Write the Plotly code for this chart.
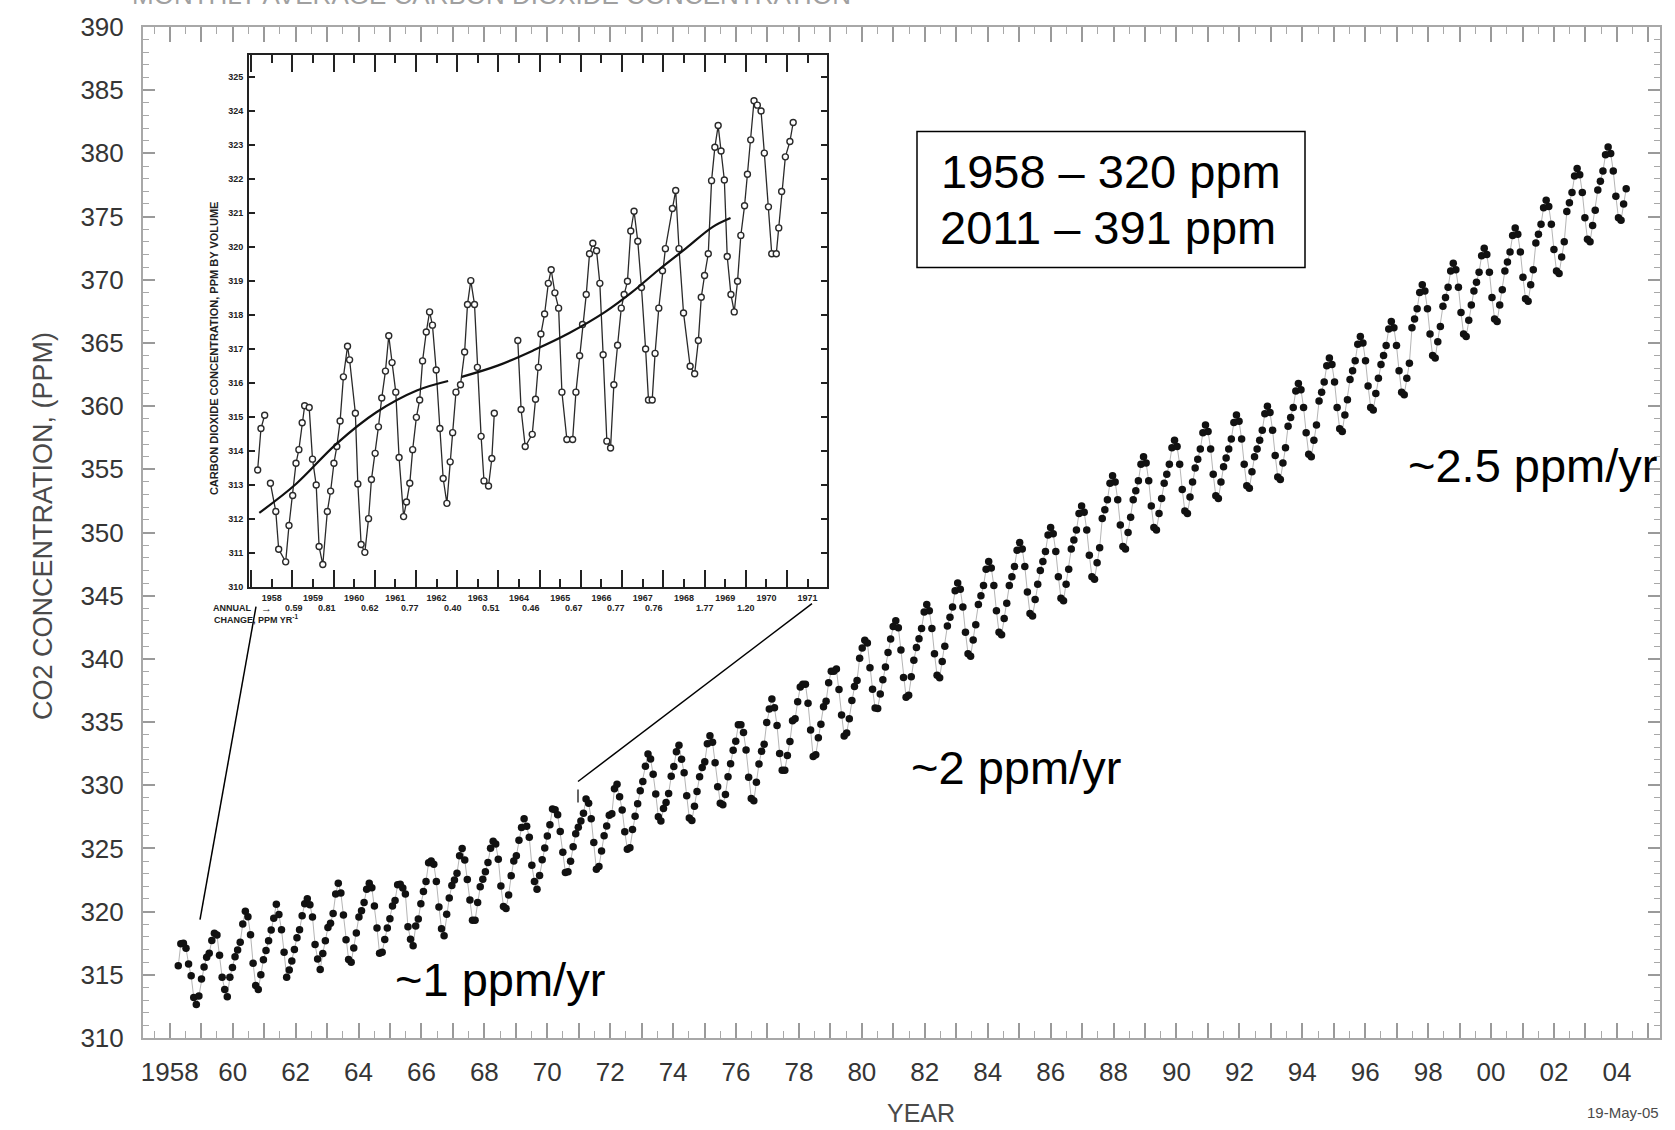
import plotly.graph_objects as go

# ---------------- main record: monthly mean CO2 (ppm), Mar 1958 - Dec 2004 ----------------
start_year = 1958
start_month = 3
co2_ppm = [
    315.71, 317.45, 317.50, 317.10, 315.86, 314.93, 313.20, 312.66, 313.33, 314.67,
    315.62, 316.38, 316.71, 317.72, 318.29, 318.15, 316.54, 314.80, 313.84, 313.26, 314.80, 315.58,
    316.43, 316.97, 317.58, 319.02, 320.03, 319.59, 318.18, 315.91, 314.16, 313.83, 315.00, 316.19,
    316.93, 317.70, 318.54, 319.48, 320.58, 319.77, 318.57, 316.79, 314.80, 315.38, 316.10, 317.01,
    317.94, 318.56, 319.68, 320.63, 321.01, 320.55, 319.58, 317.40, 316.26, 315.42, 316.69, 317.69,
    318.74, 319.08, 319.86, 321.39, 322.25, 321.47, 319.74, 317.77, 316.21, 315.99, 317.12, 318.31,
    319.57, 320.07, 320.73, 321.77, 322.25, 321.89, 320.44, 318.70, 316.70, 316.79, 317.79, 318.71,
    319.44, 320.44, 320.89, 322.13, 322.16, 321.87, 321.39, 318.81, 317.81, 317.30, 318.87, 319.42,
    320.62, 321.59, 322.39, 323.87, 324.01, 323.75, 322.39, 320.37, 318.64, 318.10, 319.79, 321.08,
    322.07, 322.50, 323.04, 324.42, 325.00, 324.09, 322.55, 320.92, 319.31, 319.31, 320.72, 321.96,
    322.57, 323.15, 323.89, 325.02, 325.57, 325.36, 324.14, 322.03, 320.41, 320.25, 321.31, 322.84,
    324.00, 324.42, 325.64, 326.66, 327.34, 326.76, 325.88, 323.67, 322.38, 321.78, 322.85, 324.11,
    325.03, 325.99, 326.87, 328.13, 328.07, 327.66, 326.35, 324.69, 323.10, 323.16, 323.98, 325.13,
    326.17, 326.68, 327.18, 327.78, 328.92, 328.57, 327.34, 325.46, 323.36, 323.57, 324.80, 326.01,
    326.77, 327.63, 327.75, 329.72, 330.07, 329.09, 328.05, 326.32, 324.93, 325.06, 326.50, 327.55,
    328.54, 329.56, 330.30, 331.50, 332.48, 332.07, 330.87, 329.31, 327.51, 327.18, 328.16, 328.64,
    329.35, 330.71, 331.48, 332.65, 333.16, 332.06, 330.99, 329.17, 327.41, 327.21, 328.33, 329.50,
    330.68, 331.41, 331.85, 333.29, 333.91, 333.40, 331.78, 329.88, 328.57, 328.46, 329.26, 330.67,
    331.71, 332.76, 333.48, 334.78, 334.78, 334.17, 332.78, 330.64, 328.95, 328.77, 330.23, 331.69,
    332.70, 333.24, 334.96, 336.04, 336.82, 336.13, 334.73, 332.52, 331.19, 331.19, 332.35, 333.47,
    335.11, 335.26, 336.60, 337.77, 338.00, 337.99, 336.48, 334.37, 332.27, 332.41, 333.76, 334.83,
    336.21, 336.64, 338.12, 339.02, 339.02, 339.20, 337.58, 335.55, 333.89, 334.14, 335.26, 336.71,
    337.81, 338.29, 340.04, 340.86, 341.47, 341.26, 339.29, 337.60, 336.12, 336.08, 337.22, 338.34,
    339.36, 340.51, 341.57, 342.56, 343.01, 342.47, 340.71, 338.52, 336.96, 337.13, 338.58, 339.89,
    340.9, 341.6, 342.4, 343.7, 344.3, 343.8, 342.4, 340.4, 338.7, 338.5, 339.8, 341.0,
    342.6, 343.3, 344.1, 345.4, 346.0, 345.5, 344.1, 342.1, 340.4, 340.2, 341.5, 342.7,
    344.3, 345.0, 345.8, 347.1, 347.7, 347.2, 345.8, 343.8, 342.1, 341.9, 343.2, 344.4,
    345.8, 346.5, 347.3, 348.6, 349.2, 348.7, 347.3, 345.3, 343.6, 343.4, 344.7, 345.9,
    347.0, 347.7, 348.5, 349.8, 350.4, 349.9, 348.5, 346.5, 344.8, 344.6, 345.9, 347.1,
    348.7, 349.4, 350.2, 351.5, 352.1, 351.6, 350.2, 348.2, 346.5, 346.3, 347.6, 348.8,
    351.1, 351.8, 352.6, 353.9, 354.5, 354.0, 352.6, 350.6, 348.9, 348.7, 350.0, 351.2,
    352.6, 353.3, 354.1, 355.4, 356.0, 355.5, 354.1, 352.1, 350.4, 350.2, 351.5, 352.7,
    353.9, 354.6, 355.4, 356.7, 357.3, 356.8, 355.4, 353.4, 351.7, 351.5, 352.8, 354.0,
    355.1, 355.8, 356.6, 357.9, 358.5, 358.0, 356.6, 354.6, 352.9, 352.7, 354.0, 355.2,
    355.9, 356.6, 357.4, 358.7, 359.3, 358.8, 357.4, 355.4, 353.7, 353.5, 354.8, 356.0,
    356.6, 357.3, 358.1, 359.4, 360.0, 359.5, 358.1, 356.1, 354.4, 354.2, 355.5, 356.7,
    358.4, 359.1, 359.9, 361.2, 361.8, 361.3, 359.9, 357.9, 356.2, 356.0, 357.3, 358.5,
    360.4, 361.1, 361.9, 363.2, 363.8, 363.3, 361.9, 359.9, 358.2, 358.0, 359.3, 360.5,
    362.1, 362.8, 363.6, 364.9, 365.5, 365.0, 363.6, 361.6, 359.9, 359.7, 361.0, 362.2,
    363.3, 364.0, 364.8, 366.1, 366.7, 366.2, 364.8, 362.8, 361.1, 360.9, 362.2, 363.4,
    366.2, 366.9, 367.7, 369.0, 369.6, 369.1, 367.7, 365.7, 364.0, 363.8, 365.1, 366.3,
    367.9, 368.6, 369.4, 370.7, 371.3, 370.8, 369.4, 367.4, 365.7, 365.5, 366.8, 368.0,
    369.1, 369.8, 370.6, 371.9, 372.5, 372.0, 370.6, 368.6, 366.9, 366.7, 368.0, 369.2,
    370.7, 371.4, 372.2, 373.5, 374.1, 373.6, 372.2, 370.2, 368.5, 368.3, 369.6, 370.8,
    372.9, 373.6, 374.4, 375.7, 376.3, 375.8, 374.4, 372.4, 370.7, 370.5, 371.8, 373.0,
    375.4, 376.1, 376.9, 378.2, 378.8, 378.3, 376.9, 374.9, 373.2, 373.0, 374.3, 375.5,
    377.1, 377.8, 378.6, 379.9, 380.5, 380.0, 378.6, 376.6, 374.9, 374.7, 376.0, 377.2,
]

x_tick_years = list(range(1958, 2006))
x_tick_text = ["1958" if y == 1958 else ("%02d" % (y % 100) if y % 2 == 0 and y <= 2004 else "")
               for y in x_tick_years]
y_tick_vals = list(range(310, 391, 5))

# ---------------- inset (Keeling, 1958-1971) ----------------
inset_years = [
    1958.16, 1958.24, 1958.33, None,
    1958.47, 1958.60, 1958.67, 1958.84, 1958.92, 1959.01, 1959.09, 1959.16, 1959.24, 1959.30,
    1959.41, 1959.49, 1959.58, 1959.65, 1959.74, 1959.85, 1959.93, 1960.01, 1960.08, 1960.16,
    1960.24, 1960.34, 1960.39, 1960.53, 1960.59, 1960.67, 1960.76, 1960.85, 1960.92, 1961.01,
    1961.09, 1961.17, 1961.26, 1961.34, 1961.42, 1961.51, 1961.59, 1961.70, 1961.77, 1961.85,
    1961.92, 1962.01, 1962.09, 1962.16, 1962.25, 1962.33, 1962.40, 1962.49, 1962.58, 1962.66,
    1962.75, 1962.83, 1962.89, 1962.97, 1963.08, 1963.18, 1963.25, 1963.33, 1963.42, 1963.49,
    1963.58, 1963.65, 1963.76, 1963.84, 1963.90, None,
    1964.47, 1964.55, 1964.65, 1964.82, 1964.90, 1964.97, 1965.03, 1965.12, 1965.21, 1965.28,
    1965.37, 1965.46, 1965.54, 1965.66, 1965.80, 1965.88, 1965.97, 1966.04, 1966.13, 1966.21,
    1966.29, 1966.38, 1966.46, 1966.54, 1966.63, 1966.72, 1966.80, 1966.89, 1966.98, 1967.05,
    1967.13, 1967.21, 1967.29, 1967.38, 1967.47, 1967.57, 1967.64, 1967.73, 1967.80, 1967.89,
    1967.98, 1968.05, 1968.22, 1968.30, 1968.38, 1968.49, 1968.65, 1968.76, 1968.85, 1968.92,
    1969.00, 1969.09, 1969.17, 1969.25, 1969.33, 1969.40, 1969.48, 1969.55, 1969.64, 1969.72,
    1969.80, 1969.88, 1969.97, 1970.04, 1970.12, 1970.20, 1970.28, 1970.37, 1970.45, 1970.55,
    1970.63, 1970.74, 1970.80, 1970.87, 1970.96, 1971.07, 1971.15,
]
inset_ppm = [
    313.43, 314.65, 315.04, None,
    313.04, 312.21, 311.10, 310.73, 311.80, 312.68, 313.63, 314.03, 314.82, 315.32,
    315.27, 313.75, 312.99, 311.18, 310.65, 312.21, 312.81, 313.63, 314.12, 314.87,
    316.17, 317.07, 316.67, 315.10, 313.02, 311.24, 311.01, 312.00, 313.15, 313.92,
    314.70, 315.55, 316.34, 317.38, 316.59, 315.72, 313.80, 312.06, 312.49, 313.04,
    314.03, 314.98, 315.49, 316.64, 317.49, 318.08, 317.69, 316.37, 314.65, 313.18,
    312.45, 313.67, 314.53, 315.72, 315.94, 316.90, 318.30, 319.00, 318.30, 316.45,
    314.42, 313.11, 312.96, 313.77, 315.10, None,
    317.24, 315.21, 314.12, 314.48, 315.51, 316.45, 317.43, 318.02, 318.92, 319.32,
    318.64, 318.19, 315.72, 314.33, 314.33, 315.72, 316.79, 317.71, 318.59, 319.79,
    320.10, 319.88, 318.92, 316.82, 314.28, 314.08, 315.94, 317.10, 318.19, 318.59,
    318.98, 320.46, 321.04, 320.16, 318.80, 316.99, 315.49, 315.49, 316.86, 318.19,
    319.29, 319.94, 321.12, 321.65, 319.94, 318.05, 316.48, 316.26, 317.24, 318.51,
    319.15, 319.79, 321.94, 322.92, 323.56, 322.81, 321.96, 319.71, 318.59, 318.08,
    318.98, 320.33, 321.20, 322.13, 323.14, 324.29, 324.16, 323.99, 322.75, 321.17,
    319.79, 319.79, 320.55, 321.62, 322.64, 323.09, 323.65,
]
trend_years = [1958.20, 1959.09, 1960.07, 1961.04, 1962.02, 1962.78, None,
               1963.11, 1963.98, 1964.85, 1965.72, 1966.59, 1967.24, 1967.89, 1968.54, 1969.20, 1969.63]
trend_ppm = [312.17, 313.02, 314.20, 315.13, 315.77, 316.05, None,
             316.17, 316.50, 316.95, 317.46, 318.08, 318.66, 319.32, 319.94, 320.58, 320.84]
inset_label_years = list(range(1958, 1972))
inset_y_ticks = list(range(310, 326))
annual_change = ["0.59", "0.81", "0.62", "0.77", "0.40", "0.51", "0.46", "0.67", "0.77", "0.76", "1.77", "1.20"]
annual_change_x = [1959.03, 1959.85, 1960.88, 1961.86, 1962.89, 1963.82, 1964.79, 1965.83, 1966.86, 1967.78, 1969.0, 1970.01]

# ---------------- geometry helpers (pixel -> paper) ----------------
L, R, T, B = 143, 1660, 21, 1038
W, H = R - L, B - T


def px(x):
    return (x - L) / W


def py(y):
    return (B - y) / H


main_x = []
for i in range(len(co2_ppm)):
    m = start_month - 1 + i
    main_x.append(start_year + m // 12 + ((m % 12) + 0.5) / 12.0)

fig = go.Figure()
# empty trace so that the labelled year axis is drawn
fig.add_trace(go.Scatter(x=[None], y=[None], xaxis="x", yaxis="y", mode="markers",
                         hoverinfo="skip", showlegend=False))
fig.add_trace(go.Scatter(
    x=main_x, y=co2_ppm, xaxis="x2", yaxis="y", mode="lines+markers",
    line=dict(color="#b5b5b5", width=1),
    marker=dict(color="#111111", size=7.5, line=dict(width=0)),
    hoverinfo="skip"))

fig.add_trace(go.Scatter(
    x=inset_years, y=inset_ppm, xaxis="x3", yaxis="y3", mode="lines+markers",
    line=dict(color="#2a2a2a", width=1.3),
    marker=dict(symbol="circle", size=6, color="white", line=dict(color="#2a2a2a", width=1.4)),
    connectgaps=False, hoverinfo="skip"))

fig.add_trace(go.Scatter(
    x=trend_years, y=trend_ppm, xaxis="x3", yaxis="y3", mode="lines",
    line=dict(color="#111111", width=2.2, shape="spline"),
    connectgaps=False, hoverinfo="skip"))

tick_font = dict(family="Liberation Sans, Arial, sans-serif", size=26, color="#353535")
inset_font = dict(family="Liberation Sans, Arial, sans-serif", size=9, color="#222222", weight="bold")

fig.update_layout(
    width=1675, height=1130,
    margin=dict(l=L, r=1675 - R, t=T, b=1130 - B),
    paper_bgcolor="white", plot_bgcolor="white", showlegend=False,
    xaxis=dict(
        domain=[0, 1], anchor="y", range=[1957.15, 2005.37],
        tickmode="array", tickvals=x_tick_years, ticktext=x_tick_text,
        ticks="inside", ticklen=15, tickwidth=1.5, tickcolor="#9a9a9a",
        minor=dict(ticks="inside", tickmode="linear", tick0=1957.5, dtick=1, ticklen=7,
                   tickwidth=1.3, tickcolor="#a8a8a8"),
        showline=True, linecolor="#a8a8a8", linewidth=2, mirror="ticks",
        showgrid=False, zeroline=False, tickfont=tick_font, ticklabelstandoff=10),
    xaxis2=dict(domain=[0, 1], anchor="y", overlaying="x", range=[1957.07, 2006.05], visible=False),
    yaxis=dict(
        domain=[0, 1], anchor="x", range=[310, 390],
        tickmode="array", tickvals=y_tick_vals,
        ticks="inside", ticklen=12, tickwidth=1.5, tickcolor="#9a9a9a",
        minor=dict(ticks="inside", tickmode="linear", tick0=310, dtick=1, ticklen=6,
                   tickwidth=1.3, tickcolor="#a8a8a8"),
        showline=True, linecolor="#a8a8a8", linewidth=2, mirror="ticks",
        showgrid=False, zeroline=False, tickfont=tick_font, ticklabelstandoff=12),
    xaxis3=dict(
        domain=[px(249), px(827)], anchor="y3", range=[1957.95, 1971.97],
        tickmode="array", tickvals=[y + 0.5 for y in inset_label_years],
        ticktext=[str(y) for y in inset_label_years],
        ticks="inside", ticklen=8, tickwidth=2, tickcolor="#222222",
        minor=dict(ticks="inside", tickmode="linear", tick0=1958, dtick=1, ticklen=17,
                   tickwidth=2, tickcolor="#222222"),
        showline=True, linecolor="#222222", linewidth=2, mirror="ticks",
        showgrid=False, zeroline=False, tickfont=inset_font, ticklabelstandoff=2),
    yaxis3=dict(
        domain=[py(584), py(49)], anchor="x3", range=[310, 325.64],
        tickmode="array", tickvals=inset_y_ticks,
        ticks="inside", ticklen=6, tickwidth=2, tickcolor="#222222",
        showline=True, linecolor="#222222", linewidth=2, mirror="ticks",
        showgrid=False, zeroline=False, tickfont=inset_font, ticklabelstandoff=2),
)

ann = []
big = dict(family="Liberation Sans, Arial, sans-serif", size=47, color="black")
ann.append(dict(text="1958 \u2013 320 ppm", x=px(1111), y=py(166), font=big))
ann.append(dict(text="2011 \u2013 391 ppm", x=px(1108), y=py(223), font=big))
ann.append(dict(text="~1 ppm/yr", x=px(500), y=py(979), font=big))
ann.append(dict(text="~2 ppm/yr", x=px(1016), y=py(766), font=big))
ann.append(dict(text="~2.5 ppm/yr", x=px(1532), y=py(462), font=big))

gray = dict(family="Liberation Sans, Arial, sans-serif", color="#4a4a4a")
ann.append(dict(text="YEAR", x=px(921), y=py(1113), font=dict(size=25, **gray)))
ann.append(dict(text="19-May-05", x=px(1661), y=py(1113), xanchor="right", font=dict(size=15, **gray)))
ann.append(dict(text="CO2 CONCENTRATION, (PPM)", x=px(43), y=py(523), textangle=-90,
                font=dict(size=27, **gray)))
ann.append(dict(text="MONTHLY AVERAGE CARBON DIOXIDE CONCENTRATION", x=px(491), y=py(-11),
                font=dict(size=26, family="Liberation Sans, Arial, sans-serif", color="#a0a0a0")))

small = dict(family="Liberation Sans, Arial, sans-serif", size=11, color="#222222", weight="bold")
ann.append(dict(text="CARBON DIOXIDE CONCENTRATION, PPM BY VOLUME", x=px(214), y=py(344),
                textangle=-90, font=small))
ann.append(dict(text="ANNUAL", x=px(211), y=py(605), xanchor="left", font=inset_font))
ann.append(dict(text="CHANGE, PPM YR<sup>-1</sup>", x=px(212), y=py(617), xanchor="left", font=inset_font))
ann.append(dict(text="\u2192", x=px(266), y=py(605), font=dict(inset_font, size=11)))
for v, xv in zip(annual_change, annual_change_x):
    ann.append(dict(text=v, x=xv, xref="x3", y=py(605), yref="paper", font=inset_font))

for a in ann:
    a.setdefault("xref", "paper")
    a.setdefault("yref", "paper")
    a.setdefault("showarrow", False)
    a.setdefault("xanchor", "center")
    a.setdefault("yanchor", "middle")
fig.update_layout(annotations=ann)

shapes = [
    dict(type="rect", x0=px(917), x1=px(1305), y0=py(263), y1=py(126),
         line=dict(color="black", width=1.5), fillcolor="rgba(0,0,0,0)"),
    dict(type="line", x0=px(256), y0=py(604), x1=px(200), y1=py(919), line=dict(color="black", width=1.5)),
    dict(type="line", x0=px(812), y0=py(601), x1=px(578), y1=py(780), line=dict(color="black", width=1.5)),
    dict(type="line", x0=px(578), y0=py(788), x1=px(578), y1=py(801), line=dict(color="black", width=1.2)),
]
for s in shapes:
    s["xref"] = "paper"
    s["yref"] = "paper"
fig.update_layout(shapes=shapes)

fig.write_html("out.html")
